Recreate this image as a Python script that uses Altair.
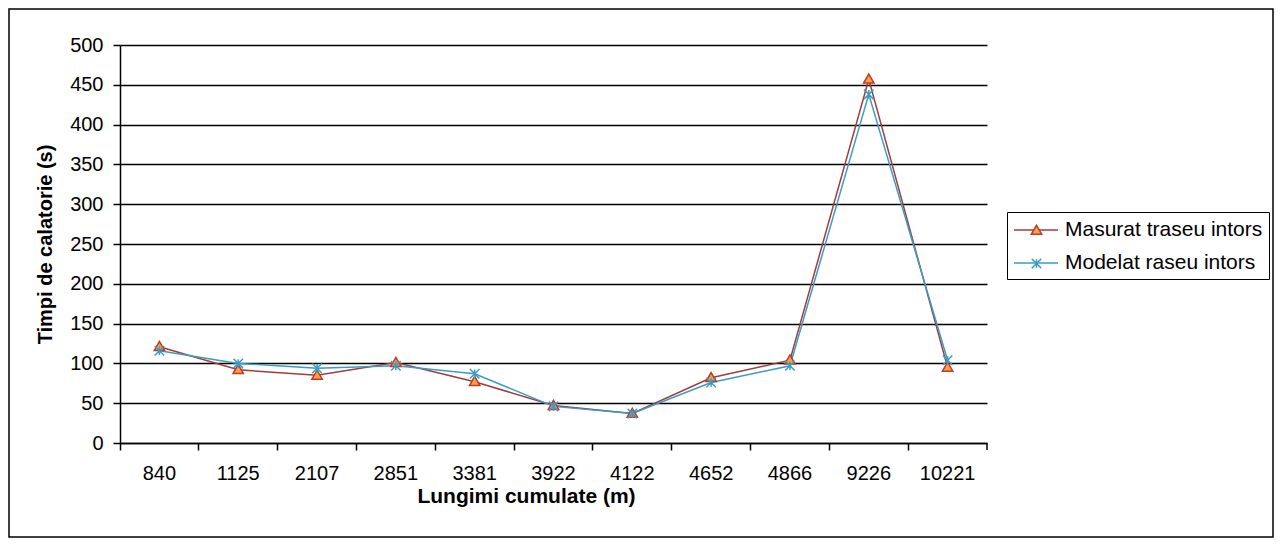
import altair as alt
import pandas as pd

categories = ["840", "1125", "2107", "2851", "3381", "3922", "4122", "4652", "4866", "9226", "10221"]
masurat = [121, 92, 85, 101, 77, 47, 37, 82, 104, 457, 95]
modelat = [116, 100, 94, 97, 87, 46, 37, 76, 97, 438, 104]
series_names = ["Masurat traseu intors", "Modelat raseu intors"]
y_ticks = [0, 50, 100, 150, 200, 250, 300, 350, 400, 450, 500]

rows = []
for i, c in enumerate(categories):
    rows.append({"cat": c, "value": masurat[i], "series": series_names[0], "series_b": series_names[0]})
    rows.append({"cat": c, "value": modelat[i], "series": series_names[1], "series_b": series_names[1]})
df = pd.DataFrame(rows)

W, H = 867, 398
LEFT, TOP = 120, 45
FONT = "Liberation Sans"
RED = "#a23b3b"
MARK_RED = "#c0392b"
ORANGE = "#f4a442"
TEAL = "#3a9cc4"
TRI = "M0,-1.1L1.1,0.8L-1.1,0.8Z"
XPATH = "M-1,-1L1,1M-1,1L1,-1M0,-0.9L0,0.9"

x = alt.X(
    "cat:N", sort=categories,
    scale=alt.Scale(type="band", paddingInner=0, paddingOuter=0),
    axis=alt.Axis(
        title="Lungimi cumulate (m)", bandPosition=0, labelAngle=0, grid=False,
        domainColor="black", domainWidth=1.5, tickColor="black", tickWidth=1.5, tickSize=7,
        labelFont=FONT, labelFontSize=20, labelColor="black", labelPadding=13,
        titleFont=FONT, titleFontSize=21, titleFontWeight="bold", titleColor="black",
        titlePadding=2, titleX=406,
    ),
)
y = alt.Y(
    "value:Q",
    scale=alt.Scale(domain=[0, 500], nice=False, zero=True),
    axis=alt.Axis(
        title="Timpi de calatorie (s)", values=y_ticks, grid=True, gridColor="black", gridOpacity=1,
        gridWidth=1.5, domainColor="black", domainWidth=1.5, tickColor="black", tickWidth=1.5, tickSize=7,
        labelFont=FONT, labelFontSize=20, labelColor="black", labelPadding=10,
        titleFont=FONT, titleFontSize=20, titleFontWeight="bold", titleColor="black", titlePadding=14,
    ),
)

legend_a = alt.Legend(
    title=None, orient="none", legendX=887, legendY=167, padding=6,
    strokeColor="black", symbolType="M-1,0H3", symbolSize=484, symbolStrokeWidth=1.5,
    labelFont=FONT, labelFontSize=21, labelColor="black", labelOffset=28, labelLimit=0,
    rowPadding=11,
)
legend_b = alt.Legend(
    title=None, orient="none", legendX=905, legendY=174, padding=6,
    symbolSize=90, symbolStrokeWidth=1.5, symbolOpacity=1,
    labelExpr="''", labelFontSize=1, labelLimit=0, rowPadding=17,
)

lines = alt.Chart(df).mark_line(strokeWidth=1.5).encode(
    x=x, y=y,
    color=alt.Color("series:N", scale=alt.Scale(domain=series_names, range=[RED, TEAL]), legend=legend_a),
)

points = alt.Chart(df).mark_point(filled=True, size=90, strokeWidth=1.5, opacity=1).encode(
    x=x, y=y,
    shape=alt.Shape("series_b:N", scale=alt.Scale(range=[TRI, XPATH]), legend=legend_b),
    fill=alt.Fill("series_b:N", scale=alt.Scale(range=[ORANGE, TEAL]), legend=legend_b),
    stroke=alt.Stroke("series_b:N", scale=alt.Scale(range=[MARK_RED, TEAL]), legend=legend_b),
)

end_tick = alt.Chart(pd.DataFrame({"k": [0]})).mark_rule(color="black", strokeWidth=1.5).encode(
    x=alt.value(W), y=alt.value(H), y2=alt.value(H + 7)
)

frame = alt.Chart(pd.DataFrame({"k": [0]})).mark_rect(
    fill="transparent", stroke="black", strokeWidth=1.5
).encode(
    x=alt.value(9 - LEFT), x2=alt.value(1273 - LEFT), y=alt.value(9 - TOP), y2=alt.value(537 - TOP)
)

chart = alt.layer(frame, lines, points, end_tick).resolve_scale(
    color="independent", fill="independent", stroke="independent", shape="independent"
).properties(
    width=W, height=H,
    autosize=alt.AutoSizeParams(type="none"),
    padding={"left": LEFT, "top": TOP, "right": 1284 - LEFT - W, "bottom": 547 - TOP - H},
    background="white",
).configure_view(strokeWidth=0)

chart.save("out.html", embed_options={"renderer": "svg", "actions": False})
